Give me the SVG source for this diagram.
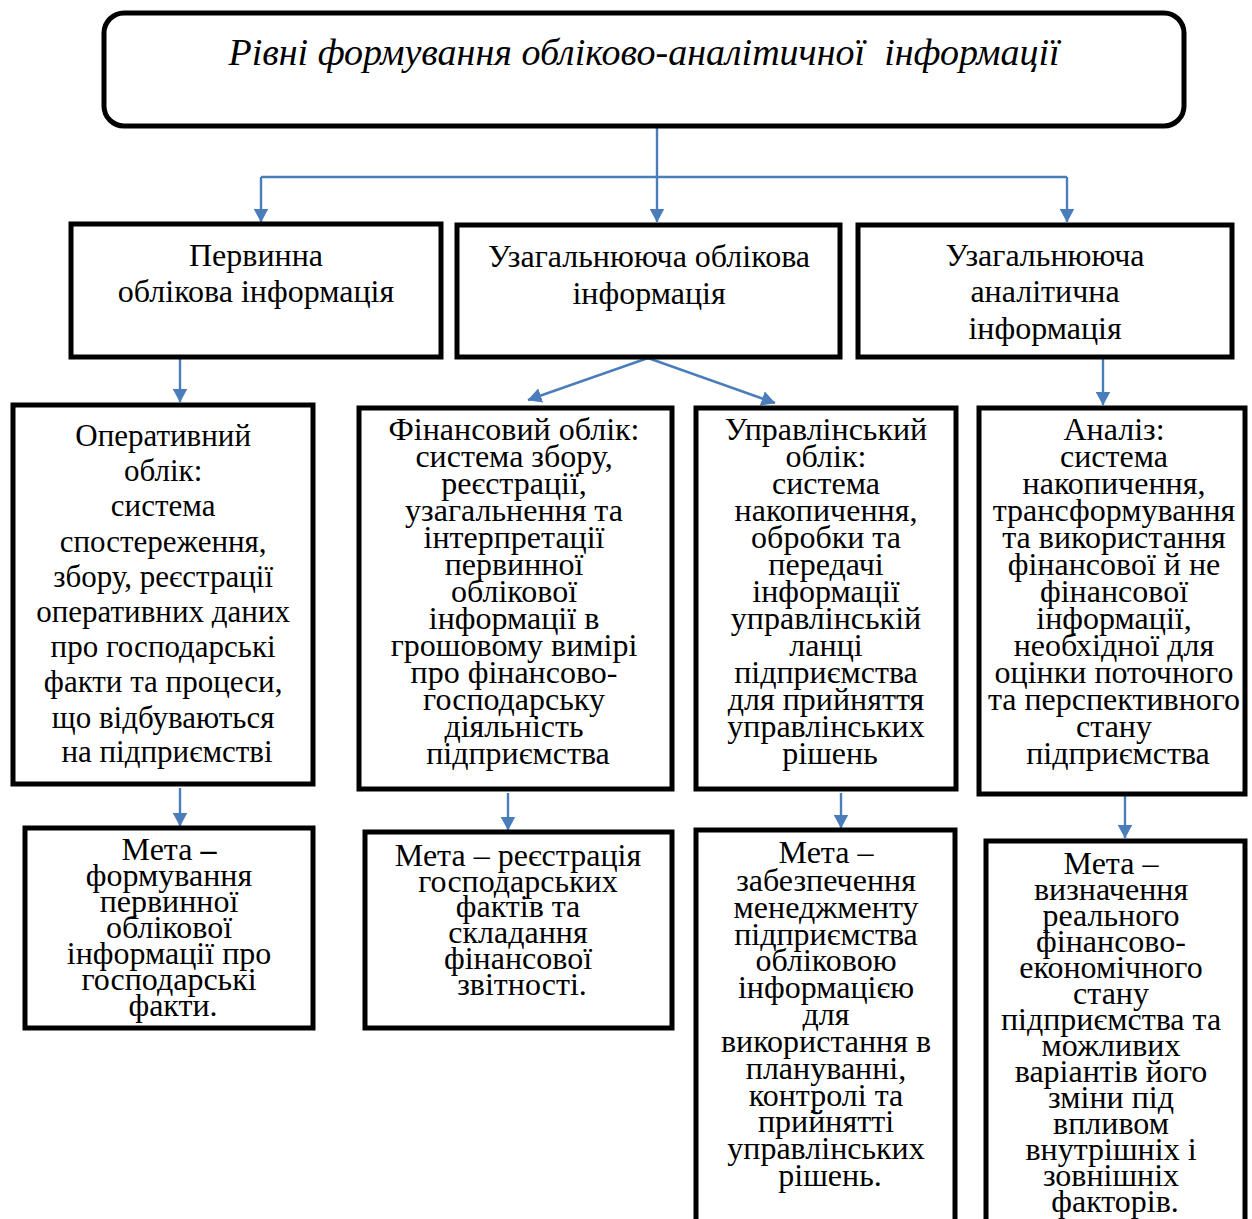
<svg xmlns="http://www.w3.org/2000/svg" width="1252" height="1219" viewBox="0 0 1252 1219">
<style>
.box{fill:#fff;stroke:#000;stroke-width:5}
.t{font-family:"Liberation Serif","Times New Roman",serif;font-size:32px;fill:#000;text-anchor:middle}
.d{font-size:31px}
.title{font-family:"Liberation Serif","Times New Roman",serif;font-size:38px;font-style:italic;fill:#000;text-anchor:middle;white-space:pre}
.c{fill:none;stroke:#4a7ebb;stroke-width:2.4}
</style>
<defs>
<marker id="ah" viewBox="0 0 14 15" refX="13.5" refY="7.5" markerWidth="14" markerHeight="15" markerUnits="userSpaceOnUse" orient="auto">
<path d="M0,0 L14,7.5 L0,15 Z" fill="#4a7ebb"/>
</marker>
</defs>
<rect width="1252" height="1219" fill="#fff"/>
<g id="connectors">
<path class="c" d="M657,127 V222" marker-end="url(#ah)"/>
<path class="c" d="M261,177 H1067"/>
<path class="c" d="M261,177 V222" marker-end="url(#ah)"/>
<path class="c" d="M1067,177 V222" marker-end="url(#ah)"/>
<path class="c" d="M180,358 V402" marker-end="url(#ah)"/>
<path class="c" d="M648,358 L528,400" marker-end="url(#ah)"/>
<path class="c" d="M648,358 L775,403" marker-end="url(#ah)"/>
<path class="c" d="M1103,358 V405" marker-end="url(#ah)"/>
<path class="c" d="M180,788 V826" marker-end="url(#ah)"/>
<path class="c" d="M508,793 V830" marker-end="url(#ah)"/>
<path class="c" d="M841,793 V828" marker-end="url(#ah)"/>
<path class="c" d="M1125,790 V838" marker-end="url(#ah)"/>
</g>
<g id="title">
<rect class="box" x="104" y="13" width="1080" height="113" rx="20"/>
<text class="title" x="644" y="65" xml:space="preserve">Рівні формування обліково-аналітичної  інформації</text>
</g>
<g id="primary">
<rect class="box" x="71" y="224" width="370" height="133"/>
<text class="t" x="256" y="266">Первинна</text>
<text class="t" x="256" y="302">облікова інформація</text>
</g>
<g id="gen-account">
<rect class="box" x="457" y="225" width="383" height="132"/>
<text class="t" x="649" y="267">Узагальнююча облікова</text>
<text class="t" x="649" y="304">інформація</text>
</g>
<g id="gen-analytic">
<rect class="box" x="858" y="225" width="374" height="132"/>
<text class="t" x="1045" y="266">Узагальнююча</text>
<text class="t" x="1045" y="302">аналітична</text>
<text class="t" x="1045" y="339">інформація</text>
</g>
<g id="operative">
<rect class="box" x="13" y="405" width="300" height="379"/>
<text class="t d" x="167">
<tspan x="167" y="446">Оперативний</tspan>
<tspan x="167" y="481">облік:</tspan>
<tspan x="167" y="516">система</tspan>
<tspan x="167" y="552">спостереження,</tspan>
<tspan x="167" y="587">збору, реєстрації</tspan>
<tspan x="167" y="622">оперативних даних</tspan>
<tspan x="167" y="657">про господарські</tspan>
<tspan x="167" y="692">факти та процеси,</tspan>
<tspan x="167" y="728">що відбуваються</tspan>
<tspan x="167" y="762">на підприємстві</tspan>
</text>
</g>
<g id="financial">
<rect class="box" x="359" y="408" width="313" height="381"/>
<text class="t" x="518">
<tspan x="518" y="440">Фінансовий облік:</tspan>
<tspan x="518" y="467">система збору,</tspan>
<tspan x="518" y="494">реєстрації,</tspan>
<tspan x="518" y="521">узагальнення та</tspan>
<tspan x="518" y="548">інтерпретації</tspan>
<tspan x="518" y="575">первинної</tspan>
<tspan x="518" y="602">облікової</tspan>
<tspan x="518" y="629">інформації в</tspan>
<tspan x="518" y="656">грошовому вимірі</tspan>
<tspan x="518" y="683">про фінансово-</tspan>
<tspan x="518" y="710">господарську</tspan>
<tspan x="518" y="737">діяльність</tspan>
<tspan x="518" y="764">підприємства</tspan>
</text>
</g>
<g id="management">
<rect class="box" x="696" y="408" width="260" height="381"/>
<text class="t" x="830">
<tspan x="830" y="440">Управлінський</tspan>
<tspan x="830" y="467">облік:</tspan>
<tspan x="830" y="494">система</tspan>
<tspan x="830" y="521">накопичення,</tspan>
<tspan x="830" y="548">обробки та</tspan>
<tspan x="830" y="575">передачі</tspan>
<tspan x="830" y="602">інформації</tspan>
<tspan x="830" y="629">управлінській</tspan>
<tspan x="830" y="656">ланці</tspan>
<tspan x="830" y="683">підприємства</tspan>
<tspan x="830" y="710">для прийняття</tspan>
<tspan x="830" y="737">управлінських</tspan>
<tspan x="830" y="764">рішень</tspan>
</text>
</g>
<g id="analysis">
<rect class="box" x="979" y="408" width="266" height="386"/>
<text class="t" x="1118">
<tspan x="1118" y="440">Аналіз:</tspan>
<tspan x="1118" y="467">система</tspan>
<tspan x="1118" y="494">накопичення,</tspan>
<tspan x="1118" y="521">трансформування</tspan>
<tspan x="1118" y="548">та використання</tspan>
<tspan x="1118" y="575">фінансової й не</tspan>
<tspan x="1118" y="602">фінансової</tspan>
<tspan x="1118" y="629">інформації,</tspan>
<tspan x="1118" y="656">необхідної для</tspan>
<tspan x="1118" y="683">оцінки поточного</tspan>
<tspan x="1118" y="710">та перспективного</tspan>
<tspan x="1118" y="737">стану</tspan>
<tspan x="1118" y="764">підприємства</tspan>
</text>
</g>
<g id="goal-operative">
<rect class="box" x="25" y="828" width="288" height="200"/>
<text class="t" x="173">
<tspan x="173" y="860">Мета <tspan font-weight="bold">–</tspan></tspan>
<tspan x="173" y="886">формування</tspan>
<tspan x="173" y="912">первинної</tspan>
<tspan x="173" y="938">облікової</tspan>
<tspan x="173" y="964">інформації про</tspan>
<tspan x="173" y="990">господарські</tspan>
<tspan x="173" y="1016">факти.</tspan>
</text>
</g>
<g id="goal-financial">
<rect class="box" x="365" y="832" width="307" height="196"/>
<text class="t" x="522">
<tspan x="522" y="866">Мета – реєстрація</tspan>
<tspan x="522" y="892">господарських</tspan>
<tspan x="522" y="917">фактів та</tspan>
<tspan x="522" y="943">складання</tspan>
<tspan x="522" y="969">фінансової</tspan>
<tspan x="522" y="995">звітності.</tspan>
</text>
</g>
<g id="goal-management">
<rect class="box" x="696" y="830" width="259" height="400"/>
<text class="t" x="830">
<tspan x="830" y="863">Мета –</tspan>
<tspan x="830" y="891">забезпечення</tspan>
<tspan x="830" y="918">менеджменту</tspan>
<tspan x="830" y="945">підприємства</tspan>
<tspan x="830" y="971">обліковою</tspan>
<tspan x="830" y="998">інформацією</tspan>
<tspan x="830" y="1025">для</tspan>
<tspan x="830" y="1052">використання в</tspan>
<tspan x="830" y="1079">плануванні,</tspan>
<tspan x="830" y="1106">контролі та</tspan>
<tspan x="830" y="1132">прийнятті</tspan>
<tspan x="830" y="1159">управлінських</tspan>
<tspan x="830" y="1186">рішень.</tspan>
</text>
</g>
<g id="goal-analysis">
<rect class="box" x="986" y="841" width="259" height="400"/>
<text class="t" x="1115">
<tspan x="1115" y="874">Мета –</tspan>
<tspan x="1115" y="900">визначення</tspan>
<tspan x="1115" y="926">реального</tspan>
<tspan x="1115" y="952">фінансово-</tspan>
<tspan x="1115" y="978">економічного</tspan>
<tspan x="1115" y="1004">стану</tspan>
<tspan x="1115" y="1030">підприємства та</tspan>
<tspan x="1115" y="1056">можливих</tspan>
<tspan x="1115" y="1082">варіантів його</tspan>
<tspan x="1115" y="1108">зміни під</tspan>
<tspan x="1115" y="1134">впливом</tspan>
<tspan x="1115" y="1160">внутрішніх і</tspan>
<tspan x="1115" y="1186">зовнішніх</tspan>
<tspan x="1115" y="1212">факторів.</tspan>
</text>
</g>
</svg>
